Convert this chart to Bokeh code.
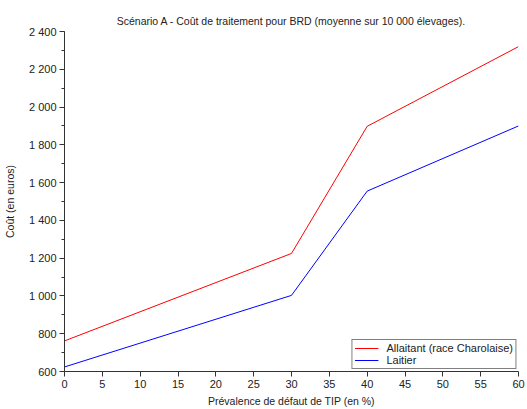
from bokeh.plotting import figure
from bokeh.models import SingleIntervalTicker, CustomJSTickFormatter, Range1d, Legend, LegendItem
from bokeh.embed import file_html
from bokeh.resources import INLINE

prevalence = [0, 30, 40, 60]
allaitant = [762, 1225, 1898, 2320]
laitier = [624, 1003, 1555, 1900]
series_names = ["Allaitant (race Charolaise)", "Laitier"]

FONT = "Liberation Sans"

p = figure(width=527, height=409, output_backend="svg", toolbar_location=None,
           x_range=Range1d(0, 60), y_range=Range1d(600, 2400),
           min_border_left=63, min_border_right=9, min_border_top=31, min_border_bottom=35)

p.title.text = "Scénario A - Coût de traitement pour BRD (moyenne sur 10 000 élevages)."
p.title.align = "center"
p.title.text_font = FONT
p.title.text_font_size = "10.5px"
p.title.text_font_style = "normal"
p.title.text_color = "#222222"

p.grid.visible = False
p.outline_line_color = None
p.background_fill_color = "white"
p.border_fill_color = "white"

r1 = p.line(prevalence, allaitant, line_color="#ff0000", line_width=1)
r2 = p.line(prevalence, laitier, line_color="#0000ff", line_width=1)

p.xaxis.ticker = SingleIntervalTicker(interval=5, num_minor_ticks=0)
p.yaxis.ticker = SingleIntervalTicker(interval=200, num_minor_ticks=2)
p.yaxis.formatter = CustomJSTickFormatter(code="""
    return tick.toFixed(0).replace(/\\B(?=(\\d{3})+(?!\\d))/g, " ");
""")

for ax in (p.xaxis[0], p.yaxis[0]):
    ax.axis_line_color = "#333333"
    ax.major_tick_line_color = "#333333"
    ax.minor_tick_line_color = "#333333"
    ax.major_tick_in = 0
    ax.major_tick_out = 5
    ax.minor_tick_in = 0
    ax.minor_tick_out = 3
    ax.major_label_text_font = FONT
    ax.major_label_text_font_size = "11px"
    ax.major_label_text_color = "#222222"
    ax.axis_label_text_font = FONT
    ax.axis_label_text_font_size = "10.5px"
    ax.axis_label_text_font_style = "normal"
    ax.axis_label_text_color = "#222222"

p.xaxis.axis_label = "Prévalence de défaut de TIP (en %)"
p.yaxis.axis_label = "Coût (en euros)"
p.xaxis.axis_label_standoff = 4
p.yaxis.axis_label_standoff = 10
p.xaxis.major_label_standoff = 3
p.yaxis.major_label_standoff = 3

legend = Legend(items=[LegendItem(label=series_names[0], renderers=[r1]),
                       LegendItem(label=series_names[1], renderers=[r2])],
                location="bottom_right")
legend.label_text_font = FONT
legend.label_text_font_size = "11px"
legend.label_text_color = "#222222"
legend.border_line_color = "#000000"
legend.border_line_width = 1
legend.background_fill_alpha = 1
legend.margin = 2
legend.padding = 2
legend.spacing = 0
legend.glyph_height = 12
legend.label_height = 12
legend.label_standoff = 8
legend.glyph_width = 24
p.add_layout(legend)

open("out.html", "w").write(file_html(p, INLINE))
